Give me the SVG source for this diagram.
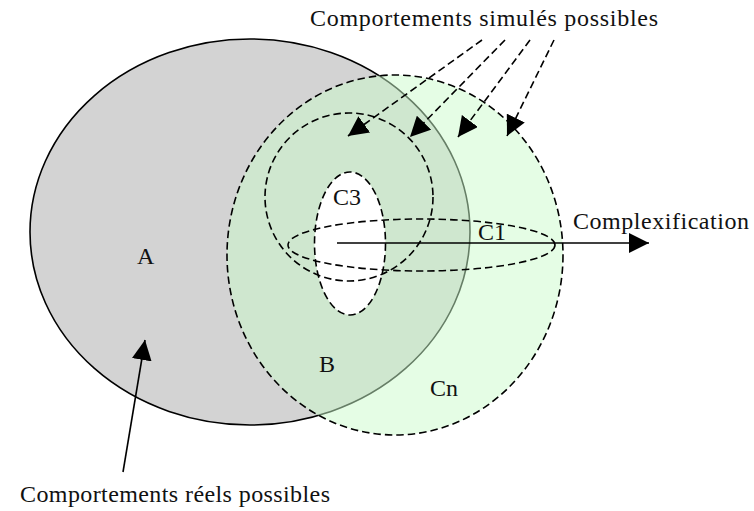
<svg xmlns="http://www.w3.org/2000/svg" width="754" height="511" viewBox="0 0 754 511">
<defs>
<style>
.lbl{font-family:"Liberation Serif","Times New Roman",serif;font-size:24px;fill:#111}
.dash{fill:none;stroke:#000;stroke-width:1.6;stroke-dasharray:7.5 4}
.conn{fill:none;stroke:#000;stroke-width:1.6}
</style>
<marker id="ah" markerUnits="userSpaceOnUse" markerWidth="20" markerHeight="20" refX="20" refY="10" orient="auto">
<path d="M0,0 L20,10 L0,20 z" style="fill:#000;stroke:none"/>
</marker>
</defs>
<rect width="754" height="511" fill="#fff"/>
<g id="A">
<ellipse cx="250" cy="232" rx="220" ry="193" fill="#d3d3d3" stroke="#000" stroke-width="1.6"/>
<text class="lbl" x="137" y="264">A</text>
</g>
<g id="Cn">
<ellipse cx="395" cy="255" rx="168" ry="180" fill="#cbfbcb" fill-opacity="0.5" stroke="none"/>
<ellipse class="dash" cx="395" cy="255" rx="168" ry="180"/>
<text class="lbl" x="430" y="396">Cn</text>
</g>
<g id="B">
<text class="lbl" x="319" y="372">B</text>
</g>
<g id="C3">
<ellipse cx="350" cy="243.5" rx="35.5" ry="71.5" fill="#fff" stroke="#000" stroke-width="1.6" stroke-dasharray="7.5 4"/>
<text class="lbl" x="333" y="205">C3</text>
</g>
<g id="C2">
<circle class="dash" cx="349" cy="197" r="84"/>
</g>
<g id="C1">
<ellipse class="dash" cx="421.5" cy="245" rx="133.5" ry="26"/>
<text class="lbl" x="478" y="240">C1</text>
</g>
<g id="connectors">
<line class="dash" x1="482" y1="40" x2="348" y2="136" marker-end="url(#ah)"/>
<line class="dash" x1="505" y1="40" x2="410" y2="137" marker-end="url(#ah)"/>
<line class="dash" x1="530" y1="40" x2="458" y2="137" marker-end="url(#ah)"/>
<line class="dash" x1="554" y1="40" x2="507" y2="136" marker-end="url(#ah)"/>
<line class="conn" x1="337" y1="243" x2="649" y2="243" marker-end="url(#ah)"/>
<line class="conn" x1="123" y1="472" x2="145" y2="340" marker-end="url(#ah)"/>
</g>
<g id="texts">
<text class="lbl" x="310" y="26" textLength="348" lengthAdjust="spacing">Comportements simulés possibles</text>
<text class="lbl" x="573" y="229" textLength="176" lengthAdjust="spacing">Complexification</text>
<text class="lbl" x="20" y="502" textLength="310" lengthAdjust="spacing">Comportements réels possibles</text>
</g>
</svg>
